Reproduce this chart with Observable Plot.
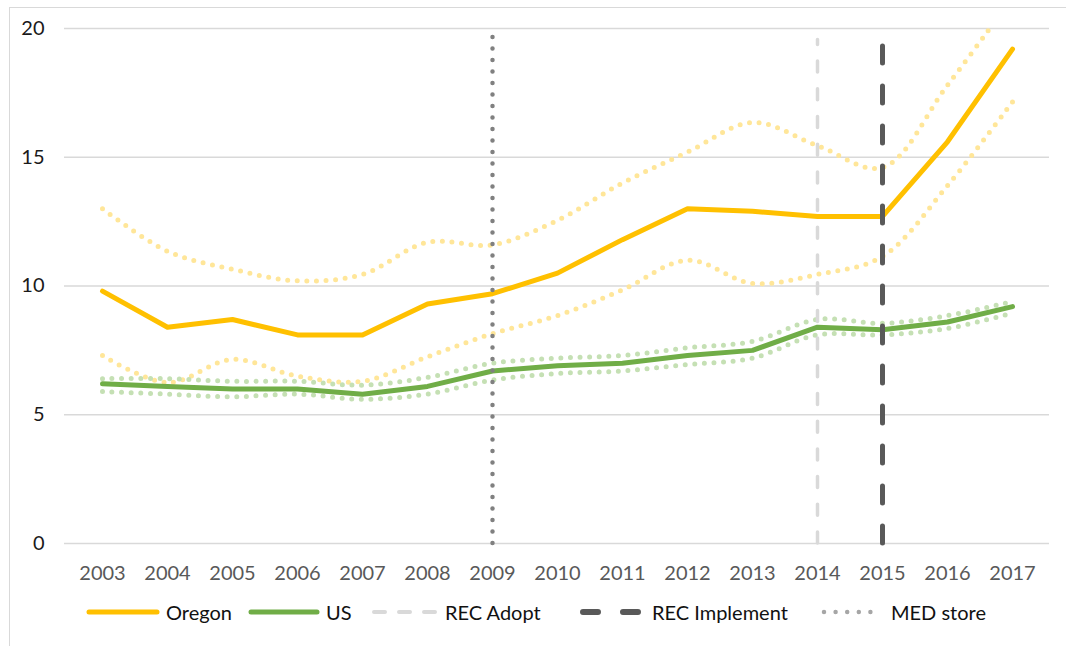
<!DOCTYPE html>
<html>
<head>
<meta charset="utf-8">
<script src="https://cdn.jsdelivr.net/npm/d3@7"></script>
<script src="https://cdn.jsdelivr.net/npm/@observablehq/plot@0.6"></script>
<style>
  html, body { margin: 0; padding: 0; background: #fff; overflow: hidden; }
  body { width: 1066px; height: 646px; position: relative; font-family: Lato, "Open Sans", sans-serif; }
  #frame { position: absolute; left: 9px; top: 7px; width: 1200px; height: 800px; border: 1.5px solid #d9d9d9; box-sizing: border-box; }
  #chart { position: absolute; left: 0; top: 0; }
  #chart g[aria-label="x-axis tick label"] { color: #595959; fill: #595959; }
  #chart g[aria-label="y-axis tick label"] { color: #1a1a1a; fill: #1a1a1a; }
  .leg { position: absolute; top: 600px; height: 24px; display: flex; align-items: center; font-size: 20px; color: #111; white-space: nowrap; }
  .leg svg { display: block; margin-right: 6px; }
</style>
</head>
<body>
<div id="frame"></div>
<div id="chart"></div>
<div id="legend"></div>
<script>
// ---- data ----
const years = [2003, 2004, 2005, 2006, 2007, 2008, 2009, 2010, 2011, 2012, 2013, 2014, 2015, 2016, 2017];
const oregon      = [9.8, 8.4, 8.7, 8.1, 8.1, 9.3, 9.7, 10.5, 11.8, 13.0, 12.9, 12.7, 12.7, 15.6, 19.2];
const oregonUpper = [13.0, 11.35, 10.65, 10.2, 10.45, 11.7, 11.6, 12.55, 14.0, 15.2, 16.35, 15.45, 14.6, 17.8, 21.2];
const oregonLower = [7.3, 6.25, 7.15, 6.5, 6.3, 7.25, 8.15, 8.85, 9.85, 11.0, 10.1, 10.45, 11.15, 13.9, 17.15];
const us          = [6.2, 6.1, 6.0, 6.0, 5.8, 6.1, 6.7, 6.9, 7.0, 7.3, 7.5, 8.4, 8.3, 8.6, 9.2];
const usUpper     = [6.4, 6.4, 6.3, 6.3, 6.15, 6.45, 7.0, 7.2, 7.3, 7.6, 7.85, 8.7, 8.55, 8.85, 9.4];
const usLower     = [5.9, 5.8, 5.7, 5.8, 5.6, 5.8, 6.35, 6.6, 6.7, 6.95, 7.2, 8.1, 8.1, 8.35, 8.95];
const yTicks = [0, 5, 10, 15, 20];
const seriesNames = ["Oregon", "US", "REC Adopt", "REC Implement", "MED store"];
const recAdoptYear = [2014];
const recImplementYear = [2015];
const medStoreYear = [2009];

const rows = years.map((year, i) => ({
  year, oregon: oregon[i], oregonUpper: oregonUpper[i], oregonLower: oregonLower[i],
  us: us[i], usUpper: usUpper[i], usLower: usLower[i]
}));

const ORANGE = "#FFC000", ORANGE_LIGHT = "#FFE699";
const GREEN = "#70AD47", GREEN_LIGHT = "#C5E0B4";
const GRID = "#d9d9d9";

const dotted = (y, stroke, extra = {}) => Plot.line(rows, {
  x: "year", y, stroke, strokeWidth: 5, strokeDasharray: "0 9.6",
  strokeLinecap: "round", curve: "catmull-rom", ...extra
});

const chart = Plot.plot({
  width: 1066,
  height: 600,
  marginLeft: 64,
  marginRight: 17,
  marginTop: 28,
  marginBottom: 57,
  style: { fontFamily: "Lato, 'Open Sans', sans-serif", fontSize: "20px", background: "none", overflow: "visible" },
  x: { type: "point", domain: years, padding: 0.5, label: null, axis: null },
  y: { domain: [0, 20], label: null, axis: null },
  marks: [
    Plot.ruleY(yTicks, { stroke: GRID, strokeWidth: 1.5 }),
    Plot.axisX({ tickSize: 0, tickPadding: 22, tickFormat: d => String(d), fontSize: 20, label: null }),
    Plot.axisY({ ticks: yTicks, tickSize: 0, tickPadding: 20, fontSize: 20, label: null }),
    dotted("oregonUpper", ORANGE_LIGHT, { clip: true }),
    dotted("oregonLower", ORANGE_LIGHT),
    dotted("usUpper", GREEN_LIGHT),
    dotted("usLower", GREEN_LIGHT),
    Plot.line(rows, { x: "year", y: "us", stroke: GREEN, strokeWidth: 5, strokeLinejoin: "round", strokeLinecap: "round" }),
    Plot.line(rows, { x: "year", y: "oregon", stroke: ORANGE, strokeWidth: 5, strokeLinejoin: "round", strokeLinecap: "round" }),
    Plot.ruleX(recAdoptYear, { y1: 0, y2: 19.55, stroke: "#d9d9d9", strokeWidth: 3.5, strokeDasharray: "11 16.7", strokeLinecap: "round" }),
    Plot.ruleX(recImplementYear, { y1: 0, y2: 19.5, stroke: "#595959", strokeWidth: 5, strokeDasharray: "17 23", strokeLinecap: "round" }),
    Plot.ruleX(medStoreYear, { y1: 0, y2: 19.7, stroke: "#808080", strokeWidth: 4.5, strokeDasharray: "0 11.5", strokeLinecap: "round" })
  ]
});
document.getElementById("chart").appendChild(chart);

// ---- legend ----
const legendSpecs = [
  { name: seriesNames[0], left: 86, w: 74, stroke: ORANGE, sw: 5, dash: null },
  { name: seriesNames[1], left: 248, w: 72, stroke: GREEN, sw: 5, dash: null },
  { name: seriesNames[2], left: 371, w: 68, stroke: "#d9d9d9", sw: 4, dash: "11 14" },
  { name: seriesNames[3], left: 580, w: 66, stroke: "#595959", sw: 6, dash: "15 25" },
  { name: seriesNames[4], left: 821, w: 64, stroke: "#a6a6a6", sw: 4.5, dash: "0 11.6" }
];
const legend = document.getElementById("legend");
for (const s of legendSpecs) {
  const div = document.createElement("div");
  div.className = "leg";
  div.style.left = s.left + "px";
  const svg = d3.create("svg").attr("width", s.w).attr("height", 24);
  svg.append("line").attr("x1", 3).attr("x2", s.w - 3).attr("y1", 12).attr("y2", 12)
    .attr("stroke", s.stroke).attr("stroke-width", s.sw).attr("stroke-linecap", "round")
    .attr("stroke-dasharray", s.dash);
  div.appendChild(svg.node());
  const span = document.createElement("span");
  span.textContent = s.name;
  div.appendChild(span);
  legend.appendChild(div);
}
</script>
</body>
</html>
